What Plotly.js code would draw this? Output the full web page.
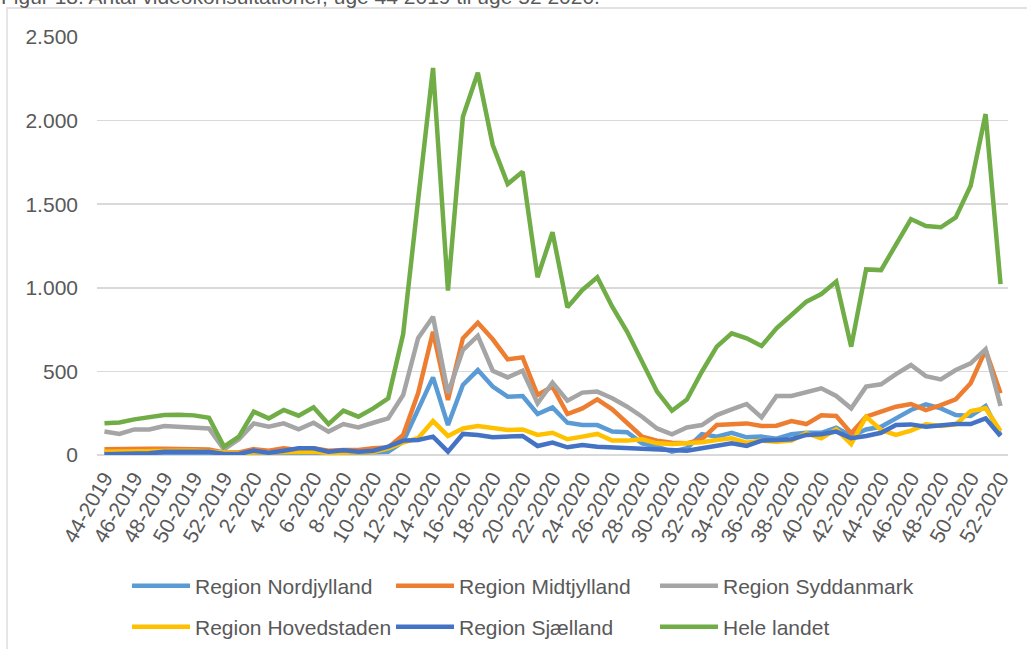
<!DOCTYPE html>
<html>
<head>
<meta charset="utf-8">
<script src="https://cdn.plot.ly/plotly-3.0.1.min.js"></script>
<style>
  html, body { margin: 0; padding: 0; background: #ffffff; }
  #chart { width: 1027px; height: 649px; }
</style>
</head>
<body>
<div id="chart"></div>
<script>
// Week categories
const weeks2019 = [44, 45, 46, 47, 48, 49, 50, 51, 52];
const weeks2020 = [1,2,3,4,5,6,7,8,9,10,11,12,13,14,15,16,17,18,19,20,21,22,23,24,25,26,
                   27,28,29,30,31,32,33,34,35,36,37,38,39,40,41,42,43,44,45,46,47,48,49,50,51,52];
const categories = weeks2019.map(w => w + "-2019").concat(weeks2020.map(w => w + "-2020"));

// Series values
const nordjylland = [10,12,8,12,5,10,8,12,5,5,
                     10,8,12,10,12,5,10,12,15,20,
                     80,269,464,179,419,508,409,349,353,245,
                     285,193,179,179,140,136,70,50,20,40,
                     125,110,133,106,110,98,124,133,133,163,
                     114,153,169,219,269,303,279,239,233,293,
                     120];
const midtjylland = [35,38,40,38,38,35,33,33,15,15,
                     35,25,40,30,40,25,30,30,40,45,
                     120,369,737,329,698,791,692,572,584,359,
                     409,245,279,333,273,189,110,86,74,70,
                     94,179,185,189,173,175,203,185,237,233,
                     130,229,259,289,305,269,299,333,429,628,
                     369];
const syddanmark = [140,126,153,153,173,169,169,159,34,94,
                    189,169,189,153,193,140,185,165,193,219,
                    359,698,827,369,628,712,504,464,504,309,
                    433,325,373,379,339,289,229,159,124,165,
                    179,239,273,305,225,353,353,379,399,353,
                    279,409,423,484,538,472,452,508,548,632,
                    293];
const hovedstaden = [20,22,18,20,22,25,25,20,10,10,
                     15,15,20,15,20,12,15,15,18,40,
                     75,100,203,114,159,173,159,150,153,120,
                     133,94,110,126,86,86,94,70,66,70,
                     76,90,100,74,86,80,86,130,100,153,
                     66,229,150,120,146,183,173,183,263,279,
                     143];
const sjaelland = [5,8,5,10,20,20,20,20,6,6,
                   26,14,26,40,40,20,28,20,26,50,
                   86,90,110,20,126,120,106,110,114,54,
                   74,46,60,50,46,44,40,34,30,26,
                   40,54,70,54,86,90,94,120,124,140,
                   100,114,133,179,183,169,179,185,185,219,
                   114];
const heleLandet = [190,195,213,229,239,241,237,223,50,110,
                    259,219,269,235,285,185,265,229,279,339,
                    723,1525,2315,983,2023,2286,1854,1621,1694,1063,
                    1332,883,987,1063,887,737,558,379,265,332,
                    498,648,728,698,652,758,837,917,963,1037,
                    648,1110,1106,1262,1411,1369,1362,1421,1610,2039,
                    1022];

const seriesNames = ["Region Nordjylland", "Region Midtjylland", "Region Syddanmark",
                     "Region Hovedstaden", "Region Sjælland", "Hele landet"];
const seriesValues = [nordjylland, midtjylland, syddanmark, hovedstaden, sjaelland, heleLandet];
const seriesColors = ["#5B9BD5", "#ED7D31", "#A5A5A5", "#FFC000", "#4472C4", "#70AD47"];
const seriesLegend = ["legend", "legend", "legend", "legend2", "legend2", "legend2"];

const titleText = "Figur 18. Antal videokonsultationer, uge 44 2019 til uge 52 2020.";
const yTickVals = [0, 500, 1000, 1500, 2000, 2500];
const yTickText = ["0", "500", "1.000", "1.500", "2.000", "2.500"];

const FONT = "'Liberation Sans', Arial, sans-serif";
const TXT = "#595959";

const traces = seriesNames.map((name, i) => ({
  type: "scatter",
  mode: "lines",
  name: name,
  x: categories,
  y: seriesValues[i],
  line: { color: seriesColors[i], width: 4.5 },
  legend: seriesLegend[i],
  hoverinfo: "skip"
}));

const W = 1027, H = 649;
const mL = 97, mR = 19, mT = 37, mB = 194;
const pw = W - mL - mR, ph = H - mT - mB;
const px2x = p => (p - mL) / pw;
const px2y = p => (H - mB - p) / ph;

const legendCommon = {
  orientation: "h",
  xref: "paper", yref: "paper",
  xanchor: "left", yanchor: "middle",
  font: { family: FONT, size: 21, color: TXT },
  itemwidth: 58,
  entrywidth: 191,
  entrywidthmode: "pixels",
  bgcolor: "rgba(0,0,0,0)",
  borderwidth: 0,
  traceorder: "normal",
  itemclick: false, itemdoubleclick: false
};

const layout = {
  width: W, height: H,
  margin: { l: mL, r: mR, t: mT, b: mB, autoexpand: false },
  paper_bgcolor: "#ffffff",
  plot_bgcolor: "#ffffff",
  font: { family: FONT, size: 21, color: TXT },
  showlegend: true,
  legend: Object.assign({}, legendCommon, { x: px2x(127), y: px2y(586) }),
  legend2: Object.assign({}, legendCommon, { x: px2x(127), y: px2y(627) }),
  xaxis: {
    type: "category",
    categoryorder: "array",
    categoryarray: categories,
    range: [-0.5, categories.length - 0.5],
    tickmode: "linear",
    tick0: 0,
    dtick: 2,
    tickangle: -60,
    tickfont: { family: FONT, size: 21, color: TXT },
    showgrid: false,
    showline: false,
    zeroline: false,
    ticks: "",
    ticklabelstandoff: 6,
    automargin: false,
    fixedrange: true
  },
  yaxis: {
    range: [0, 2500],
    tickmode: "array",
    tickvals: yTickVals,
    ticktext: yTickText,
    tickfont: { family: FONT, size: 21, color: TXT },
    showgrid: true,
    gridcolor: "#D9D9D9",
    gridwidth: 1.5,
    zeroline: true,
    zerolinecolor: "#D9D9D9",
    zerolinewidth: 1.5,
    showline: false,
    ticks: "",
    ticklabelstandoff: 18,
    automargin: false,
    fixedrange: true
  },
  annotations: [{
    text: titleText,
    xref: "paper", yref: "paper",
    x: px2x(0), y: px2y(-3),
    xanchor: "left", yanchor: "middle",
    showarrow: false,
    font: { family: FONT, size: 21, color: TXT },
    borderpad: 0
  }],
  shapes: [{
    type: "rect",
    xref: "paper", yref: "paper",
    x0: px2x(7), x1: px2x(1040),
    y0: px2y(8), y1: px2y(700),
    line: { color: "#D9D9D9", width: 1.3 },
    fillcolor: "rgba(0,0,0,0)",
    layer: "below"
  }],
  hovermode: false
};

Plotly.newPlot("chart", traces, layout, { displayModeBar: false, staticPlot: true });
</script>
</body>
</html>
